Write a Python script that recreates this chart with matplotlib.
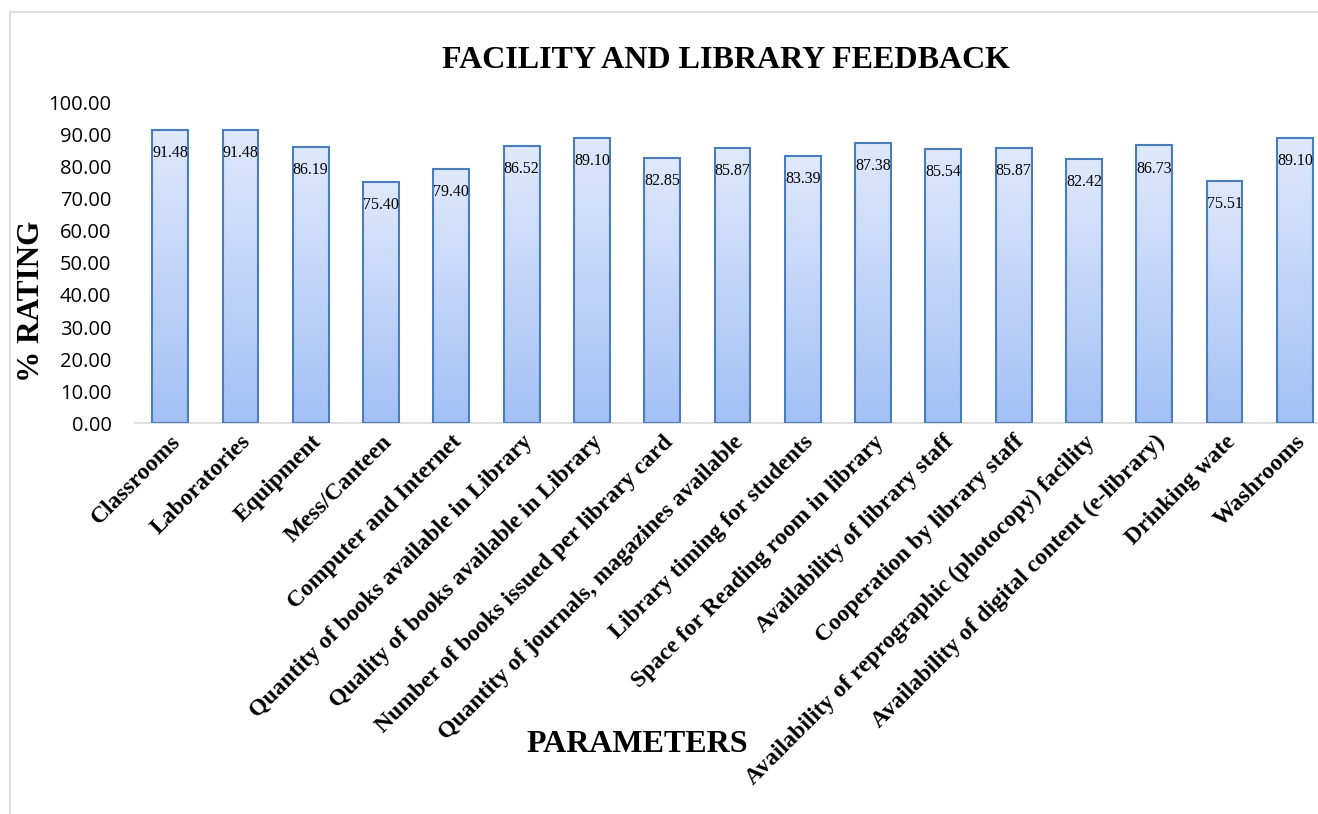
import matplotlib
matplotlib.use('Agg')
import matplotlib.pyplot as plt
import matplotlib.patches as patches
from matplotlib.colors import LinearSegmentedColormap
import numpy as np

parameters = [
    'Classrooms', 'Laboratories', 'Equipment', 'Mess/Canteen',
    'Computer and Internet', 'Quantity of books available in Library',
    'Quality of books available in Library',
    'Number of books issued per library card',
    'Quantity of journals, magazines available',
    'Library timing for students', 'Space for Reading room in library',
    'Availability of library staff', 'Cooperation by library staff',
    'Availability of reprographic (photocopy) facility',
    'Availability of digital content (e-library)', 'Drinking wate',
    'Washrooms',
]
ratings = [91.48, 91.48, 86.19, 75.40, 79.40, 86.52, 89.10, 82.85, 85.87,
           83.39, 87.38, 85.54, 85.87, 82.42, 86.73, 75.51, 89.10]
y_ticks = [0, 10, 20, 30, 40, 50, 60, 70, 80, 90, 100]

W, H = 1318, 814
fig = plt.figure(figsize=(W / 100, H / 100), dpi=100)

# light grey frame round the chart area (cut off at right and bottom)
fig.patches.append(patches.Rectangle((10 / W, -0.05), 1.1, 1 - 12 / H + 0.05,
                                     transform=fig.transFigure, fill=False,
                                     edgecolor='#d9d9d9', linewidth=1.2))

# plot area runs a little past the right edge of the picture
ax = fig.add_axes([135 / W, 1 - 423 / H, (1330 - 135) / W, 320 / H])

x = np.arange(len(parameters))
bars = ax.bar(x, ratings, width=0.51, color='none', edgecolor='#4a7ebb',
              linewidth=1.5, zorder=3)

cmap = LinearSegmentedColormap.from_list('grad', ['#a3c0f5', '#dfe9fc'])
grad = np.linspace(0, 1, 256).reshape(-1, 1)
for b in bars:
    x0, w, h = b.get_x(), b.get_width(), b.get_height()
    im = ax.imshow(grad, cmap=cmap, origin='lower', aspect='auto',
                   extent=(x0, x0 + w, 0, h), zorder=2)
    im.set_clip_path(b)

for xi, v in zip(x, ratings):
    ax.text(xi, v - 7.2, f'{v:.2f}', ha='center', va='center',
            fontsize=11.5, family='Liberation Serif', zorder=4)

ax.set_xlim(-0.5, len(parameters) - 0.5)
ax.set_ylim(0, 100)
ax.set_yticks(y_ticks)
ax.set_yticklabels([f'{t:.2f}' for t in y_ticks], fontsize=14.5,
                   family='Open Sans')
ax.set_xticks(x)
ax.set_xticklabels(parameters, rotation=45, ha='right',
                   rotation_mode='anchor', fontsize=17,
                   family='Liberation Serif', fontweight='bold')
ax.tick_params(axis='y', length=0, pad=17)
ax.tick_params(axis='x', length=0, pad=6)

for s in ['top', 'right', 'left']:
    ax.spines[s].set_visible(False)
ax.spines['bottom'].set_color('#d9d9d9')
ax.spines['bottom'].set_linewidth(1.2)
ax.spines['bottom'].set_zorder(1)

fig.text(726 / W, 1 - 60 / H, 'FACILITY AND LIBRARY FEEDBACK',
         ha='center', va='center', fontsize=23, fontweight='bold',
         family='Liberation Serif')
fig.text(32 / W, 1 - 301 / H, '% RATING', ha='center', va='center',
         rotation=90, fontsize=22.5, fontweight='bold',
         family='Liberation Serif')
fig.text(637 / W, 1 - 745 / H, 'PARAMETERS', ha='center', va='center',
         fontsize=23, fontweight='bold', family='Liberation Serif')

fig.savefig('out.png', dpi=100)
